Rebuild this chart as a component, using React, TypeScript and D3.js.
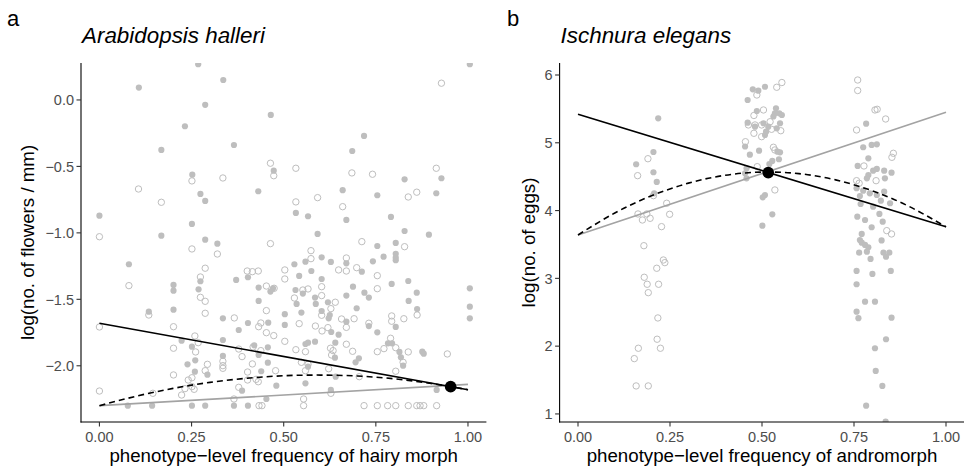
import React from "react";
import * as d3 from "d3";

// ---------- Panel a: Arabidopsis halleri ----------
const halleriFilled: [number, number][] = [
  [0.268,0.269],[0.107,0.093],[0.336,0.150],[0.287,-0.037],[0.465,-0.113],[1.005,0.269],[0.232,-0.198],
  [0.365,-0.339],[0.168,-0.376],[0.473,-0.532],[0.252,-0.562],[0.431,-0.687],[0.274,-0.707],[0.287,-0.760],
  [0,-0.871],[0.718,-0.271],[0.686,-0.384],[0.928,-0.589],[0.828,-0.597],[0.660,-0.679],[0.754,-0.717],
  [0.914,-0.702],[0.533,-0.850],[0.566,-0.875],[0.791,-0.880],[0.670,-0.903],[0.251,-0.933],[0.168,-1.021],
  [0.287,-1.051],[0.320,-1.081],[0.080,-1.236],[0.274,-1.364],[0.371,-1.354],[0.403,-1.334],[0.201,-1.392],
  [0.201,-1.435],[0.269,-1.425],[0.432,-1.412],[0.471,-1.417],[0.464,-1.442],[0.432,-1.512],[0.201,-1.578],
  [0.134,-1.593],[0.335,-1.643],[0.403,-1.678],[0.458,-1.676],[0.378,-1.731],[0.223,-1.811],[0.335,-1.806],
  [0.251,-1.856],[0.420,-1.846],[0.457,-1.861],[0.335,-1.926],[0.260,-1.959],[0.239,-1.989],[0.259,-2.044],
  [0.293,-2.067],[0.457,-1.977],[0.432,-1.919],[0.439,-2.041],[0.387,-2.187],[0.480,-2.150],[0.077,-2.300],
  [0.143,-2.300],[0.251,-2.300],[0.287,-2.300],[0.365,-2.300],[0.403,-2.300],[0.453,-2.250],[0.828,-0.986],
  [0.894,-1.014],[0.592,-1.008],[0.754,-1.099],[0.804,-1.076],[0.804,-1.157],[0.804,-1.187],[0.804,-1.206],
  [0.771,-1.179],[0.742,-1.214],[0.529,-1.236],[0.559,-1.217],[0.603,-1.184],[0.628,-1.219],[0.670,-1.229],
  [0.712,-1.292],[0.542,-1.324],[0.575,-1.287],[0.603,-1.347],[0.838,-1.362],[0.532,-1.430],[0.552,-1.457],
  [0.688,-1.405],[0.793,-1.384],[0.719,-1.450],[0.731,-1.487],[0.861,-1.450],[0.585,-1.487],[0.587,-1.535],
  [0.839,-1.512],[0.535,-1.535],[0.620,-1.522],[0.670,-1.472],[0.603,-1.588],[0.698,-1.567],[0.503,-1.612],
  [0.548,-1.600],[0.625,-1.618],[0.622,-1.643],[0.862,-1.573],[1.005,-1.417],[1.005,-1.555],[1.005,-1.643],
  [0.503,-1.693],[0.629,-1.746],[0.649,-1.766],[0.670,-1.668],[0.731,-1.701],[0.804,-1.708],[0.754,-1.748],
  [0.559,-1.836],[0.566,-1.826],[0.585,-1.819],[0.640,-1.826],[0.783,-1.831],[0.794,-1.831],[0.814,-1.896],
  [0.818,-1.936],[0.876,-1.894],[0.880,-1.909],[0.639,-1.939],[0.704,-1.944],[0.695,-1.974],[0.824,-1.999],
  [0.566,-2.007],[0.641,-2.082],[0.559,-2.132],[0.628,-2.182],[0.915,-2.182]
];
const halleriOpen: [number, number][] = [
  [0.928,0.126],[0.464,-0.476],[0.473,-0.570],[0.251,-0.609],[0.335,-0.587],[0.106,-0.670],[0.168,-0.770],
  [0.533,-0.514],[0.685,-0.549],[0.741,-0.559],[0.914,-0.514],[0.838,-0.730],[0.861,-0.694],[0.533,-0.767],
  [0.592,-0.735],[0.660,-0.803],[0,-1.029],[0.464,-1.081],[0.251,-1.121],[0.320,-1.159],[0.287,-1.266],
  [0.274,-1.332],[0.401,-1.287],[0.415,-1.292],[0.431,-1.287],[0.080,-1.397],[0.453,-1.400],[0.274,-1.485],
  [0.287,-1.515],[0.453,-1.585],[0.134,-1.618],[0.287,-1.605],[0,-1.708],[0.201,-1.706],[0.366,-1.640],
  [0.438,-1.678],[0.432,-1.706],[0.453,-1.751],[0.473,-1.773],[0.201,-1.868],[0.259,-1.776],[0.268,-1.826],
  [0.261,-1.896],[0.417,-1.858],[0.438,-1.886],[0.378,-1.874],[0.387,-1.931],[0.335,-1.966],[0.335,-1.999],
  [0.335,-2.019],[0.293,-1.989],[0.287,-2.037],[0.415,-1.986],[0.402,-2.047],[0.478,-2.037],[0.201,-2.069],
  [0.241,-2.107],[0.251,-2.090],[0.232,-2.172],[0.251,-2.157],[0.257,-2.177],[0.223,-2.220],[0.145,-2.207],
  [0,-2.190],[0.378,-2.162],[0.402,-2.107],[0.425,-2.102],[0.431,-2.120],[0.365,-2.250],[0.433,-2.300],
  [0.441,-2.300],[0.712,-1.066],[0.828,-1.104],[0.574,-1.134],[0.574,-1.194],[0.670,-1.189],[0.649,-1.279],
  [0.670,-1.287],[0.698,-1.262],[0.503,-1.279],[0.503,-1.347],[0.754,-1.322],[0.474,-1.417],[0.552,-1.430],
  [0.566,-1.422],[0.603,-1.405],[0.754,-1.420],[0.529,-1.490],[0.603,-1.472],[0.640,-1.522],[0.628,-1.570],
  [0.603,-1.620],[0.862,-1.618],[0.793,-1.625],[0.793,-1.665],[0.826,-1.646],[0.542,-1.683],[0.586,-1.701],
  [0.604,-1.738],[0.620,-1.713],[0.657,-1.648],[0.670,-1.711],[0.691,-1.646],[0.731,-1.680],[0.503,-1.816],
  [0.559,-1.894],[0.533,-1.879],[0.627,-1.868],[0.634,-1.886],[0.630,-1.919],[0.670,-1.838],[0.687,-1.891],
  [0.754,-1.894],[0.772,-1.871],[0.790,-1.793],[0.804,-1.864],[0.838,-1.896],[0.944,-1.911],[0.824,-1.974],
  [0.548,-1.974],[0.566,-1.989],[0.559,-2.037],[0.622,-2.022],[0.705,-2.082],[0.804,-2.041],[0.628,-2.207],
  [0.554,-2.250],[0.554,-2.300],[0.718,-2.300],[0.754,-2.300],[0.782,-2.300],[0.804,-2.300],[0.838,-2.300],
  [0.861,-2.300],[0.870,-2.300],[0.880,-2.300],[0.915,-2.300]
];
const halleriBlackLine: [number, number][] = [[0, -1.68], [1, -2.18]];
const halleriGreyLine: [number, number][] = [[0, -2.30], [1, -2.14]];
const halleriDashed: [number, number][] = [
  [0,-2.300],[0.1,-2.229],[0.2,-2.170],[0.3,-2.125],[0.4,-2.094],[0.5,-2.075],[0.6,-2.070],
  [0.7,-2.077],[0.8,-2.098],[0.9,-2.133],[1,-2.180]
];
const halleriPoint: [number, number] = [0.953, -2.157];
const halleriYTicks = [0, -0.5, -1.0, -1.5, -2.0];
const halleriYLabels = ["0.0", "\u22120.5", "\u22121.0", "\u22121.5", "\u22122.0"];

// ---------- Panel b: Ischnura elegans ----------
const elegansFilled: [number, number][] = [
  [0.218,5.361],[0.205,4.864],[0.158,4.683],[0.205,4.565],[0.214,4.422],[0.207,4.255],
  [0.461,5.631],[0.475,5.789],[0.490,5.768],[0.508,5.827],[0.486,5.469],[0.538,5.509],[0.535,5.435],
  [0.547,5.435],[0.531,5.388],[0.554,5.410],[0.461,5.296],[0.481,5.237],[0.504,5.288],[0.517,5.237],
  [0.549,5.288],[0.511,5.164],[0.508,5.115],[0.540,5.214],[0.454,4.945],[0.542,4.869],[0.549,4.860],
  [0.492,4.883],[0.467,4.824],[0.546,4.757],[0.528,4.732],[0.520,4.687],[0.458,4.624],[0.454,4.550],
  [0.458,4.476],[0.508,4.230],[0.502,4.196],[0.528,3.945],[0.501,3.777],
  [0.783,5.282],[0.775,4.934],[0.798,4.968],[0.812,4.978],[0.789,4.771],[0.760,4.658],[0.812,4.614],
  [0.832,4.589],[0.852,4.559],[0.802,4.589],[0.789,4.525],[0.785,4.476],[0.834,4.476],[0.757,4.329],
  [0.775,4.294],[0.793,4.255],[0.812,4.230],[0.832,4.279],[0.766,4.215],[0.768,4.097],[0.802,4.058],
  [0.823,4.146],[0.848,4.108],[0.759,3.910],[0.780,3.861],[0.819,3.950],[0.828,3.836],[0.798,3.754],
  [0.771,3.655],[0.766,3.566],[0.771,3.527],[0.780,3.493],[0.789,3.459],[0.825,3.559],[0.785,3.394],
  [0.764,3.379],[0.830,3.379],[0.846,3.379],[0.837,3.320],[0.795,3.286],[0.757,3.109],[0.800,3.065],
  [0.850,3.109],[0.757,2.913],[0.780,2.656],[0.807,2.656],[0.757,2.509],[0.762,2.412],[0.852,2.420],
  [0.837,2.102],[0.807,1.969],[0.809,1.634],[0.827,1.413],[0.783,1.122],[0.836,0.886]
];
const elegansOpen: [number, number][] = [
  [0.190,4.765],[0.162,4.515],[0.205,4.220],[0.241,4.108],[0.249,3.945],[0.163,3.950],[0.187,3.950],
  [0.175,3.861],[0.196,3.886],[0.227,3.763],[0.179,3.482],[0.232,3.271],[0.236,3.232],[0.214,3.149],
  [0.180,3.016],[0.188,2.913],[0.219,2.913],[0.191,2.789],[0.217,2.416],[0.215,2.102],[0.224,1.969],
  [0.164,1.969],[0.153,1.816],[0.158,1.413],[0.191,1.413],
  [0.540,5.819],[0.554,5.889],[0.486,5.705],[0.504,5.484],[0.478,5.403],[0.463,5.263],[0.481,5.263],
  [0.499,5.263],[0.522,5.311],[0.526,5.199],[0.551,5.178],[0.478,5.140],[0.499,5.090],[0.455,5.016],
  [0.531,4.934],[0.535,4.894],[0.487,4.648],[0.535,4.304],
  [0.760,5.926],[0.760,5.771],[0.807,5.484],[0.813,5.494],[0.836,5.351],[0.757,5.189],[0.857,4.845],
  [0.853,4.786],[0.777,4.658],[0.757,4.441],[0.764,4.403],[0.810,4.441],[0.839,3.704],[0.852,3.655]
];
const elegansBlackLine: [number, number][] = [[0, 5.42], [1, 3.76]];
const elegansGreyLine: [number, number][] = [[0, 3.64], [1, 5.45]];
const elegansDashed: [number, number][] = [
  [0,3.640],[0.1,3.964],[0.2,4.219],[0.3,4.405],[0.4,4.521],[0.5,4.568],[0.6,4.545],
  [0.7,4.453],[0.8,4.291],[0.9,4.060],[1,3.760]
];
const elegansPoint: [number, number] = [0.517, 4.56];
const elegansYTicks = [1, 2, 3, 4, 5, 6];
const elegansYLabels = ["1", "2", "3", "4", "5", "6"];

const xTicks = [0, 0.25, 0.5, 0.75, 1];
const xTickLabels = ["0.00", "0.25", "0.50", "0.75", "1.00"];

const FONT = "'Liberation Sans', Arial, Helvetica, sans-serif";
const PT_GREY = "#bebebe";

type PanelProps = {
  id: string;
  tag: string;
  title: string;
  xTitle: string;
  yTitle: string;
  left: number;
  right: number;
  top: number;
  bottom: number;
  xDomain: [number, number];
  yDomain: [number, number];
  yTicks: number[];
  yLabels: string[];
  filled: [number, number][];
  open: [number, number][];
  black: [number, number][];
  grey: [number, number][];
  dashed: [number, number][];
  point: [number, number];
  tagX: number;
  yTitleX: number;
};

function Panel(p: PanelProps) {
  const x = d3.scaleLinear().domain(p.xDomain).range([p.left, p.right]);
  const y = d3.scaleLinear().domain(p.yDomain).range([p.bottom, p.top]);
  const line = d3.line<[number, number]>().x((d) => x(d[0])).y((d) => y(d[1]));
  const curve = d3
    .line<[number, number]>()
    .x((d) => x(d[0]))
    .y((d) => y(d[1]))
    .curve(d3.curveNatural);
  const cx = (p.left + p.right) / 2;
  const cy = (p.top + p.bottom) / 2;
  return (
    <g fontFamily={FONT}>
      <defs>
        <clipPath id={"clip-" + p.id}>
          <rect x={p.left} y={p.top} width={p.right - p.left} height={p.bottom - p.top} />
        </clipPath>
      </defs>
      <text x={p.tagX} y={26} fontSize={22} fill="#000">{p.tag}</text>
      <text x={p.left + 1} y={43} fontSize={22.4} fontStyle="italic" fill="#000">{p.title}</text>
      <g clipPath={`url(#clip-${p.id})`}>
        {p.filled.map((d, i) => (
          <circle key={"f" + i} cx={x(d[0])} cy={y(d[1])} r={3.1} fill={PT_GREY} />
        ))}
        {p.open.map((d, i) => (
          <circle key={"o" + i} cx={x(d[0])} cy={y(d[1])} r={3.2} fill="none" stroke={PT_GREY} strokeWidth={1} />
        ))}
        <path d={line(p.grey) || ""} fill="none" stroke="#a3a3a3" strokeWidth={1.6} />
        <path d={line(p.black) || ""} fill="none" stroke="#000" strokeWidth={1.6} />
        <path d={curve(p.dashed) || ""} fill="none" stroke="#000" strokeWidth={1.6} strokeDasharray="6,4" />
        <circle cx={x(p.point[0])} cy={y(p.point[1])} r={5.8} fill="#000" />
      </g>
      {/* axes */}
      <line x1={p.left} x2={p.left} y1={p.top} y2={p.bottom + 0.5} stroke="#000" strokeWidth={1.1} />
      <line x1={p.left - 0.5} x2={p.right} y1={p.bottom} y2={p.bottom} stroke="#000" strokeWidth={1.1} />
      {p.yTicks.map((t, i) => (
        <g key={"yt" + i}>
          <line x1={p.left - 4.5} x2={p.left} y1={y(t)} y2={y(t)} stroke="#333" strokeWidth={1.1} />
          <text x={p.left - 7} y={y(t)} dy="0.36em" textAnchor="end" fontSize={14.5} fill="#4d4d4d">
            {p.yLabels[i]}
          </text>
        </g>
      ))}
      {xTicks.map((t, i) => (
        <g key={"xt" + i}>
          <line x1={x(t)} x2={x(t)} y1={p.bottom} y2={p.bottom + 4.5} stroke="#333" strokeWidth={1.1} />
          <text x={x(t)} y={p.bottom + 20} textAnchor="middle" fontSize={14.5} fill="#4d4d4d">
            {xTickLabels[i]}
          </text>
        </g>
      ))}
      <text x={cx} y={462} textAnchor="middle" fontSize={18.7} fill="#000">{p.xTitle}</text>
      <text
        transform={`translate(${p.yTitleX},${cy}) rotate(-90)`}
        textAnchor="middle"
        fontSize={18.7}
        fill="#000"
      >
        {p.yTitle}
      </text>
    </g>
  );
}

export default function App() {
  return (
    <svg
      width={964}
      height={467}
      style={{ position: "absolute", left: 0, top: 0, background: "#fff" }}
    >
      <rect x={0} y={0} width={964} height={467} fill="#fff" />
      <Panel
        id="a"
        tag="a"
        title="Arabidopsis halleri"
        xTitle={"phenotype\u2212level frequency of hairy morph"}
        yTitle="log(no. of flowers / mm)"
        left={81}
        right={486.4}
        top={63}
        bottom={422}
        xDomain={[-0.05, 1.05]}
        yDomain={[-2.423, 0.278]}
        yTicks={halleriYTicks}
        yLabels={halleriYLabels}
        filled={halleriFilled}
        open={halleriOpen}
        black={halleriBlackLine}
        grey={halleriGreyLine}
        dashed={halleriDashed}
        point={halleriPoint}
        tagX={7}
        yTitleX={34}
      />
      <Panel
        id="b"
        tag="b"
        title="Ischnura elegans"
        xTitle={"phenotype\u2212level frequency of andromorph"}
        yTitle="log(no. of eggs)"
        left={559.6}
        right={964.4}
        top={63}
        bottom={422}
        xDomain={[-0.05, 1.05]}
        yDomain={[0.881, 6.177]}
        yTicks={elegansYTicks}
        yLabels={elegansYLabels}
        filled={elegansFilled}
        open={elegansOpen}
        black={elegansBlackLine}
        grey={elegansGreyLine}
        dashed={elegansDashed}
        point={elegansPoint}
        tagX={507}
        yTitleX={535}
      />
    </svg>
  );
}
